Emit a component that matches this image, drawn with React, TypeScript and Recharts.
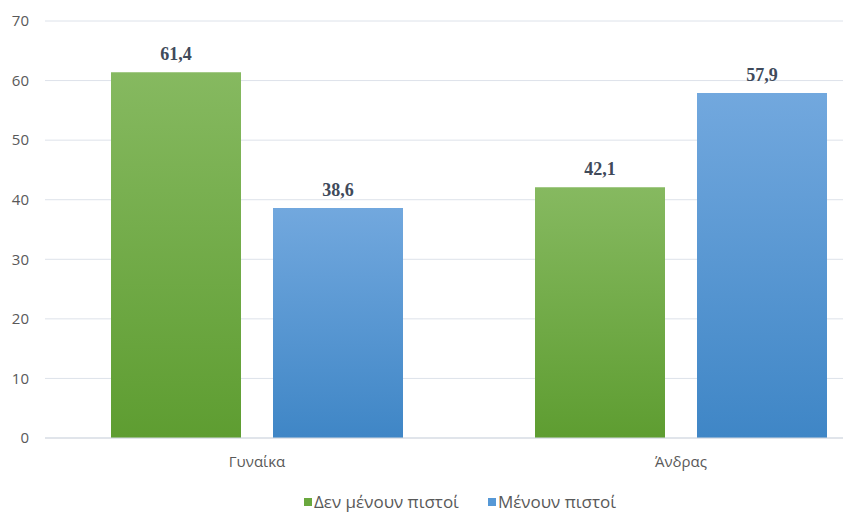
import React from 'react'
import { BarChart, Bar, XAxis, YAxis, CartesianGrid, Legend, LabelList } from 'recharts'

const categories = ['Γυναίκα', 'Άνδρας']
const notLoyal = [61.4, 42.1]
const loyal = [38.6, 57.9]
const yTicks = [0, 10, 20, 30, 40, 50, 60, 70]

const data = categories.map((name, i) => ({ name, notLoyal: notLoyal[i], loyal: loyal[i] }))

const series = [
    { key: 'notLoyal', label: 'Δεν μένουν πιστοί', fill: 'url(#gGreen)', swatch: '#6AA83E' },
    { key: 'loyal', label: 'Μένουν πιστοί', fill: 'url(#gBlue)', swatch: '#5698D6' }
]

const axisFont = { fill: '#595959', fontSize: 15, fontFamily: '"Open Sans", "Noto Sans", sans-serif' }

const renderLegend = () => (
    <div style={{ display: 'flex', justifyContent: 'center', gap: 29, fontSize: 17, fontFamily: axisFont.fontFamily, color: '#595959' }}>
        {series.map((s) => (
            <span key={s.key} style={{ display: 'flex', alignItems: 'center' }}>
                <span style={{ width: 8, height: 8, background: s.swatch, marginRight: 2, display: 'inline-block' }} />
                {s.label}
            </span>
        ))}
    </div>
)

const fmt = (v: any) => String(v).replace('.', ',')

const App = () => {
    return (
        <div style={{ position: 'fixed', left: 0, top: 0, width: 843, height: 515, overflow: 'hidden', background: '#fff' }}>
            <BarChart
                width={893}
                height={515}
                data={data}
                margin={{ top: 21, right: 0, left: 0, bottom: 47 }}
                barCategoryGap={66}
                barGap={32}
            >
                <defs>
                    <linearGradient id="gGreen" x1="0" y1="0" x2="0" y2="1">
                        <stop offset="0%" stopColor="#86B960" />
                        <stop offset="100%" stopColor="#5E9D31" />
                    </linearGradient>
                    <linearGradient id="gBlue" x1="0" y1="0" x2="0" y2="1">
                        <stop offset="0%" stopColor="#72A8DE" />
                        <stop offset="100%" stopColor="#3F86C6" />
                    </linearGradient>
                </defs>
                <CartesianGrid vertical={false} stroke="#DDE2EA" />
                <XAxis
                    dataKey="name"
                    height={30}
                    tickLine={false}
                    axisLine={{ stroke: '#D3D8E0' }}
                    tick={axisFont}
                    tickMargin={12}
                />
                <YAxis
                    width={45}
                    domain={[0, 70]}
                    ticks={yTicks}
                    tickLine={false}
                    axisLine={false}
                    tick={axisFont}
                    tickMargin={10}
                />
                <Legend
                    verticalAlign="middle"
                    layout="horizontal"
                    content={renderLegend}
                    wrapperStyle={{ left: 0, width: 920, top: 490 }}
                />
                {series.map((s) => (
                    <Bar key={s.key} dataKey={s.key} name={s.label} fill={s.fill} barSize={130} isAnimationActive={false}>
                        <LabelList
                            dataKey={s.key}
                            position="top"
                            offset={12}
                            formatter={fmt}
                            style={{ fill: '#404A5A', fontSize: 18, fontWeight: 'bold', fontFamily: '"Liberation Serif", serif' }}
                        />
                    </Bar>
                ))}
            </BarChart>
        </div>
    )
}

export default App
